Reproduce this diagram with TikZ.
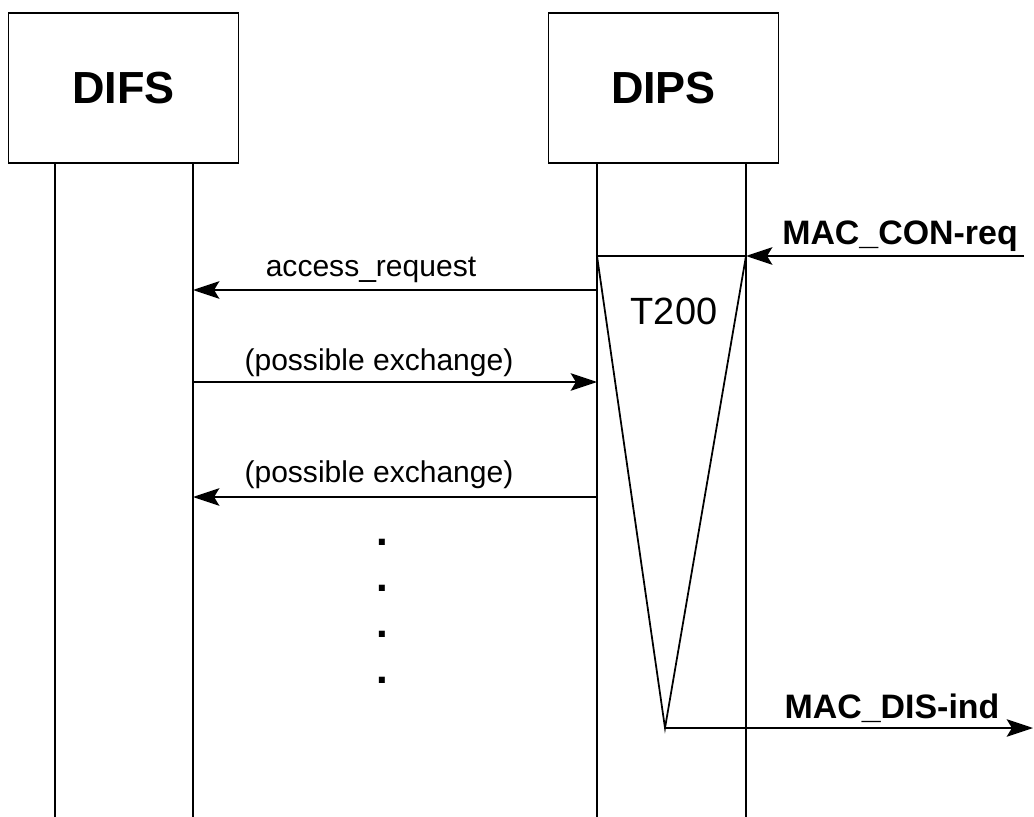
\documentclass[tikz,border=0pt]{standalone}
\usepackage{fontspec}
\setmainfont{Liberation Sans}
\usetikzlibrary{arrows.meta}
\begin{document}
\begin{tikzpicture}[x=0.02cm,y=-0.02cm,line width=1pt,>={Stealth[length=15pt,width=10pt,inset=3pt]}]
\tikzstyle{every node}=[inner sep=0pt]
\tikzstyle{entity}=[draw,rectangle,minimum width=4.6cm,minimum height=3cm,font=\fontsize{25.6}{30}\selectfont\bfseries]
\tikzstyle{msg}=[anchor=base,font=\fontsize{17.1}{20}\selectfont]
\tikzstyle{prim}=[anchor=base,font=\fontsize{19.3}{23}\selectfont\bfseries]
\tikzstyle{dot}=[anchor=base,font=\fontsize{24}{28}\selectfont\bfseries]
\useasboundingbox (0,0) rectangle (1034,817);
\node[entity](difs) at (123.5,88) {DIFS};
\node[entity](dips) at (663.5,88) {DIPS};
% lifelines
\coordinate (l1) at (55,163);
\coordinate (l2) at (193,163);
\coordinate (l3) at (597,163);
\coordinate (l4) at (746,163);
\foreach \l in {l1,l2,l3,l4}
  \draw (\l) -- (\l |- 0,817);
% timer T200
\coordinate (t1) at (597,256);
\coordinate (t2) at (746,256);
\coordinate (t3) at (665,728);
\coordinate (env1) at (1024,256);
\coordinate (env2) at (1033,728);
\draw (t1) -- (t2) -- (t3) -- cycle;
\node[anchor=base,font=\fontsize{21.6}{26}\selectfont](tmr) at (674,325) {T200};
\draw[->] (env1) -- (t2);
\node[prim](con) at (900,245) {MAC\_CON-req};
\draw[->] (t3) -- (env2);
\node[prim](dis) at (892,718) {MAC\_DIS-ind};
% messages
\coordinate (s1) at (597,290);
\coordinate (r1) at (193,290);
\coordinate (s2) at (193,382);
\coordinate (r2) at (597,382);
\coordinate (s3) at (597,497);
\coordinate (r3) at (193,497);
\draw[->] (s1) -- (r1);
\node[msg](m1) at (371,277) {access\_request};
\draw[->] (s2) -- (r2);
\node[msg](m2) at (379,371) {(possible exchange)};
\draw[->] (s3) -- (r3);
\node[msg](m3) at (379,482) {(possible exchange)};
\foreach \y [count=\i] in {542,588,634,680}
  \node[dot](d\i) at (382,\y+3) {.};
\end{tikzpicture}
\end{document}
